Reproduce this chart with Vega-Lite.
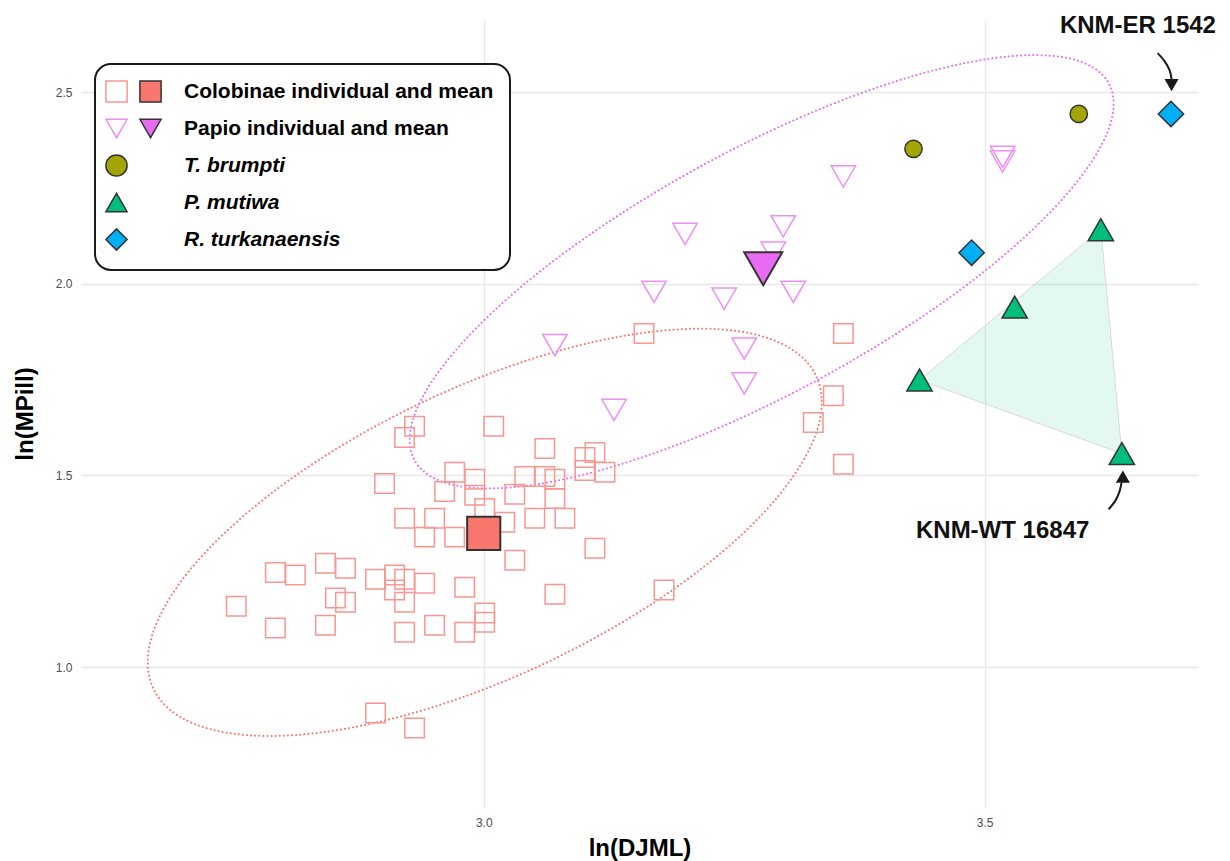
{
  "$schema": "https://vega.github.io/schema/vega-lite/v6.json",
  "width": 1117,
  "height": 787,
  "autosize": {"type": "none"},
  "padding": {"left": 81, "top": 20, "right": 32, "bottom": 54},
  "background": "white",
  "config": {"view": {"stroke": null}, "font": "Liberation Sans"},
  "datasets": {
    "pts": [
      {"taxon": "Colobinae", "x": 2.753, "y": 1.159},
      {"taxon": "Colobinae", "x": 2.792, "y": 1.247},
      {"taxon": "Colobinae", "x": 2.812, "y": 1.240},
      {"taxon": "Colobinae", "x": 2.792, "y": 1.102},
      {"taxon": "Colobinae", "x": 2.842, "y": 1.271},
      {"taxon": "Colobinae", "x": 2.862, "y": 1.258},
      {"taxon": "Colobinae", "x": 2.852, "y": 1.180},
      {"taxon": "Colobinae", "x": 2.862, "y": 1.169},
      {"taxon": "Colobinae", "x": 2.842, "y": 1.109},
      {"taxon": "Colobinae", "x": 2.892, "y": 1.229},
      {"taxon": "Colobinae", "x": 2.911, "y": 1.240},
      {"taxon": "Colobinae", "x": 2.921, "y": 1.229},
      {"taxon": "Colobinae", "x": 2.911, "y": 1.201},
      {"taxon": "Colobinae", "x": 2.941, "y": 1.219},
      {"taxon": "Colobinae", "x": 2.921, "y": 1.169},
      {"taxon": "Colobinae", "x": 2.981, "y": 1.208},
      {"taxon": "Colobinae", "x": 2.951, "y": 1.109},
      {"taxon": "Colobinae", "x": 2.921, "y": 1.091},
      {"taxon": "Colobinae", "x": 2.981, "y": 1.091},
      {"taxon": "Colobinae", "x": 3.001, "y": 1.141},
      {"taxon": "Colobinae", "x": 3.001, "y": 1.117},
      {"taxon": "Colobinae", "x": 2.892, "y": 0.880},
      {"taxon": "Colobinae", "x": 2.931, "y": 0.841},
      {"taxon": "Colobinae", "x": 2.901, "y": 1.479},
      {"taxon": "Colobinae", "x": 2.931, "y": 1.628},
      {"taxon": "Colobinae", "x": 2.921, "y": 1.599},
      {"taxon": "Colobinae", "x": 3.010, "y": 1.628},
      {"taxon": "Colobinae", "x": 2.971, "y": 1.508},
      {"taxon": "Colobinae", "x": 2.991, "y": 1.490},
      {"taxon": "Colobinae", "x": 2.961, "y": 1.458},
      {"taxon": "Colobinae", "x": 2.991, "y": 1.448},
      {"taxon": "Colobinae", "x": 3.001, "y": 1.414},
      {"taxon": "Colobinae", "x": 2.921, "y": 1.388},
      {"taxon": "Colobinae", "x": 2.951, "y": 1.388},
      {"taxon": "Colobinae", "x": 2.941, "y": 1.339},
      {"taxon": "Colobinae", "x": 2.971, "y": 1.339},
      {"taxon": "Colobinae", "x": 3.061, "y": 1.570},
      {"taxon": "Colobinae", "x": 3.101, "y": 1.547},
      {"taxon": "Colobinae", "x": 3.111, "y": 1.560},
      {"taxon": "Colobinae", "x": 3.101, "y": 1.513},
      {"taxon": "Colobinae", "x": 3.121, "y": 1.508},
      {"taxon": "Colobinae", "x": 3.041, "y": 1.497},
      {"taxon": "Colobinae", "x": 3.061, "y": 1.497},
      {"taxon": "Colobinae", "x": 3.071, "y": 1.490},
      {"taxon": "Colobinae", "x": 3.071, "y": 1.440},
      {"taxon": "Colobinae", "x": 3.031, "y": 1.451},
      {"taxon": "Colobinae", "x": 3.021, "y": 1.378},
      {"taxon": "Colobinae", "x": 3.051, "y": 1.388},
      {"taxon": "Colobinae", "x": 3.081, "y": 1.388},
      {"taxon": "Colobinae", "x": 3.111, "y": 1.310},
      {"taxon": "Colobinae", "x": 3.031, "y": 1.279},
      {"taxon": "Colobinae", "x": 3.071, "y": 1.190},
      {"taxon": "Colobinae", "x": 3.180, "y": 1.201},
      {"taxon": "Colobinae", "x": 3.160, "y": 1.870},
      {"taxon": "Colobinae", "x": 3.359, "y": 1.870},
      {"taxon": "Colobinae", "x": 3.349, "y": 1.708},
      {"taxon": "Colobinae", "x": 3.329, "y": 1.638},
      {"taxon": "Colobinae", "x": 3.359, "y": 1.529},
      {"taxon": "Papio", "x": 3.359, "y": 2.280},
      {"taxon": "Papio", "x": 3.299, "y": 2.150},
      {"taxon": "Papio", "x": 3.289, "y": 2.081},
      {"taxon": "Papio", "x": 3.201, "y": 2.130},
      {"taxon": "Papio", "x": 3.170, "y": 1.979},
      {"taxon": "Papio", "x": 3.240, "y": 1.961},
      {"taxon": "Papio", "x": 3.309, "y": 1.979},
      {"taxon": "Papio", "x": 3.071, "y": 1.840},
      {"taxon": "Papio", "x": 3.260, "y": 1.831},
      {"taxon": "Papio", "x": 3.260, "y": 1.740},
      {"taxon": "Papio", "x": 3.130, "y": 1.671},
      {"taxon": "Papio", "x": 3.518, "y": 2.331},
      {"taxon": "Papio", "x": 3.518, "y": 2.319},
      {"taxon": "T. brumpti", "x": 3.429, "y": 2.352},
      {"taxon": "T. brumpti", "x": 3.594, "y": 2.443},
      {"taxon": "P. mutiwa", "x": 3.616, "y": 2.141},
      {"taxon": "P. mutiwa", "x": 3.530, "y": 1.939},
      {"taxon": "P. mutiwa", "x": 3.435, "y": 1.749},
      {"taxon": "P. mutiwa", "x": 3.637, "y": 1.557},
      {"taxon": "R. turkanaensis", "x": 3.487, "y": 2.081},
      {"taxon": "R. turkanaensis", "x": 3.686, "y": 2.443}
    ],
    "means": [
      {"taxon": "Colobinae", "x": 3.000, "y": 1.349},
      {"taxon": "Papio", "x": 3.279, "y": 2.039}
    ],
    "hull": [
      {"i": 0, "x": 3.435, "y": 1.749},
      {"i": 1, "x": 3.616, "y": 2.141},
      {"i": 2, "x": 3.637, "y": 1.557}
    ],
    "ellC": [
      {"i": 0, "x": 3.3317, "y": 1.7599}, {"i": 1, "x": 3.3374, "y": 1.6947},
      {"i": 2, "x": 3.3329, "y": 1.6190}, {"i": 3, "x": 3.3182, "y": 1.5353},
      {"i": 4, "x": 3.2940, "y": 1.4459}, {"i": 5, "x": 3.2608, "y": 1.3537},
      {"i": 6, "x": 3.2197, "y": 1.2614}, {"i": 7, "x": 3.1720, "y": 1.1719},
      {"i": 8, "x": 3.1191, "y": 1.0878}, {"i": 9, "x": 3.0626, "y": 1.0117},
      {"i": 10, "x": 3.0043, "y": 0.9460}, {"i": 11, "x": 2.9458, "y": 0.8926},
      {"i": 12, "x": 2.8890, "y": 0.8531}, {"i": 13, "x": 2.8356, "y": 0.8288},
      {"i": 14, "x": 2.7873, "y": 0.8203}, {"i": 15, "x": 2.7454, "y": 0.8280},
      {"i": 16, "x": 2.7113, "y": 0.8516}, {"i": 17, "x": 2.6860, "y": 0.8904},
      {"i": 18, "x": 2.6703, "y": 0.9432}, {"i": 19, "x": 2.6646, "y": 1.0084},
      {"i": 20, "x": 2.6691, "y": 1.0841}, {"i": 21, "x": 2.6838, "y": 1.1678},
      {"i": 22, "x": 2.7080, "y": 1.2572}, {"i": 23, "x": 2.7412, "y": 1.3494},
      {"i": 24, "x": 2.7823, "y": 1.4417}, {"i": 25, "x": 2.8300, "y": 1.5312},
      {"i": 26, "x": 2.8829, "y": 1.6153}, {"i": 27, "x": 2.9394, "y": 1.6914},
      {"i": 28, "x": 2.9977, "y": 1.7571}, {"i": 29, "x": 3.0562, "y": 1.8105},
      {"i": 30, "x": 3.1130, "y": 1.8500}, {"i": 31, "x": 3.1664, "y": 1.8743},
      {"i": 32, "x": 3.2147, "y": 1.8828}, {"i": 33, "x": 3.2566, "y": 1.8751},
      {"i": 34, "x": 3.2907, "y": 1.8515}, {"i": 35, "x": 3.3160, "y": 1.8127}
    ],
    "ellP": [
      {"i": 0, "x": 3.6240, "y": 2.5227}, {"i": 1, "x": 3.6288, "y": 2.4668},
      {"i": 2, "x": 3.6230, "y": 2.3977}, {"i": 3, "x": 3.6066, "y": 2.3174},
      {"i": 4, "x": 3.5803, "y": 2.2284}, {"i": 5, "x": 3.5447, "y": 2.1334},
      {"i": 6, "x": 3.5011, "y": 2.0353}, {"i": 7, "x": 3.4506, "y": 1.9371},
      {"i": 8, "x": 3.3948, "y": 1.8418}, {"i": 9, "x": 3.3356, "y": 1.7522},
      {"i": 10, "x": 3.2745, "y": 1.6711}, {"i": 11, "x": 3.2136, "y": 1.6009},
      {"i": 12, "x": 3.1545, "y": 1.5439}, {"i": 13, "x": 3.0992, "y": 1.5016},
      {"i": 14, "x": 3.0494, "y": 1.4754}, {"i": 15, "x": 3.0064, "y": 1.4661},
      {"i": 16, "x": 2.9717, "y": 1.4740}, {"i": 17, "x": 2.9463, "y": 1.4988},
      {"i": 18, "x": 2.9309, "y": 1.5398}, {"i": 19, "x": 2.9261, "y": 1.5957},
      {"i": 20, "x": 2.9319, "y": 1.6648}, {"i": 21, "x": 2.9483, "y": 1.7451},
      {"i": 22, "x": 2.9746, "y": 1.8341}, {"i": 23, "x": 3.0102, "y": 1.9291},
      {"i": 24, "x": 3.0538, "y": 2.0272}, {"i": 25, "x": 3.1043, "y": 2.1254},
      {"i": 26, "x": 3.1601, "y": 2.2207}, {"i": 27, "x": 3.2193, "y": 2.3103},
      {"i": 28, "x": 3.2804, "y": 2.3914}, {"i": 29, "x": 3.3413, "y": 2.4616},
      {"i": 30, "x": 3.4004, "y": 2.5186}, {"i": 31, "x": 3.4557, "y": 2.5609},
      {"i": 32, "x": 3.5055, "y": 2.5871}, {"i": 33, "x": 3.5485, "y": 2.5964},
      {"i": 34, "x": 3.5832, "y": 2.5885}, {"i": 35, "x": 3.6086, "y": 2.5637}
    ],
    "arrows": [
      {"id": "a", "i": 0, "x": 3.6727, "y": 2.6016},
      {"id": "a", "i": 1, "x": 3.6796, "y": 2.5807},
      {"id": "a", "i": 2, "x": 3.6846, "y": 2.5573},
      {"id": "a", "i": 3, "x": 3.6866, "y": 2.5339},
      {"id": "b", "i": 0, "x": 3.6238, "y": 1.4115},
      {"id": "b", "i": 1, "x": 3.6307, "y": 1.4349},
      {"id": "b", "i": 2, "x": 3.6347, "y": 1.4583},
      {"id": "b", "i": 3, "x": 3.6367, "y": 1.4818}
    ],
    "heads": [
      {"id": "a", "x": 3.6866, "y": 2.518},
      {"id": "b", "x": 3.638, "y": 1.497}
    ],
    "labels": [
      {"label": "KNM-ER 1542", "x": 3.653, "y": 2.672},
      {"label": "KNM-WT 16847", "x": 3.518, "y": 1.354}
    ]
  },
  "layer": [
    {
      "data": {"name": "hull"},
      "mark": {"type": "line", "interpolate": "linear-closed", "fill": "#00BF7D", "fillOpacity": 0.11, "stroke": "#d9d9d9", "strokeWidth": 1},
      "encoding": {
        "x": {"field": "x", "type": "quantitative", "scale": {"domain": [2.598, 3.713], "nice": false, "zero": false},
          "axis": {"title": "ln(DJML)", "values": [3.0, 3.5], "format": ".1f", "grid": true, "gridColor": "#e8e8e8", "gridWidth": 1.4, "domain": false, "ticks": false, "labelFont": "Liberation Sans", "labelFontSize": 12, "labelColor": "#4d4d4d", "labelPadding": 10, "titleFont": "Liberation Sans", "titleFontSize": 24, "titleFontWeight": "bold", "titleColor": "#000000", "titlePadding": 8}},
        "y": {"field": "y", "type": "quantitative", "scale": {"domain": [0.635, 2.688], "nice": false, "zero": false},
          "axis": {"title": "ln(MPill)", "values": [1.0, 1.5, 2.0, 2.5], "format": ".1f", "grid": true, "gridColor": "#e8e8e8", "gridWidth": 1.4, "domain": false, "ticks": false, "labelFont": "Liberation Sans", "labelFontSize": 12, "labelColor": "#4d4d4d", "labelPadding": 9, "titleFont": "Liberation Sans", "titleFontSize": 24, "titleFontWeight": "bold", "titleColor": "#000000", "titlePadding": 18}},
        "order": {"field": "i", "type": "quantitative"}
      }
    },
    {
      "data": {"name": "ellC"},
      "mark": {"type": "line", "interpolate": "cardinal-closed", "stroke": "#F8766D", "strokeWidth": 2, "strokeDash": [0.1, 4], "strokeCap": "round"},
      "encoding": {
        "x": {"field": "x", "type": "quantitative"},
        "y": {"field": "y", "type": "quantitative"},
        "order": {"field": "i", "type": "quantitative"}
      }
    },
    {
      "data": {"name": "ellP"},
      "mark": {"type": "line", "interpolate": "cardinal-closed", "stroke": "#E76BF3", "strokeWidth": 2, "strokeDash": [0.1, 4], "strokeCap": "round"},
      "encoding": {
        "x": {"field": "x", "type": "quantitative"},
        "y": {"field": "y", "type": "quantitative"},
        "order": {"field": "i", "type": "quantitative"}
      }
    },
    {
      "data": {"name": "pts"},
      "transform": [{"filter": "datum.taxon === 'Colobinae'"}],
      "mark": {"type": "point", "filled": true, "size": 380, "strokeWidth": 1.5, "opacity": 1},
      "encoding": {
        "x": {"field": "x", "type": "quantitative"},
        "y": {"field": "y", "type": "quantitative"},
        "fill": {"field": "taxon", "type": "nominal",
          "scale": {"domain": ["Colobinae", "Papio", "T. brumpti", "P. mutiwa", "R. turkanaensis"], "range": ["transparent", "transparent", "#A3A500", "#00BF7D", "#00B0F6"]},
          "legend": {
            "orient": "none", "legendX": 14, "legendY": 44, "title": null,
            "fillColor": "white", "strokeColor": "#1a1a1a", "cornerRadius": 16, "padding": 16,
            "symbolSize": 450, "symbolStrokeWidth": 1.5, "symbolOffset": -6, "symbolOpacity": 1,
            "labelFont": "Liberation Sans", "labelFontSize": 21, "labelFontWeight": "bold", "labelColor": "#000000", "labelOffset": 56, "labelLimit": 400,
            "labelFontStyle": {"expr": "datum.value === 'Colobinae' || datum.value === 'Papio' ? 'normal' : 'italic'"},
            "rowPadding": 10, "zindex": 1,
            "labelExpr": "datum.value === 'Colobinae' ? 'Colobinae individual and mean' : datum.value === 'Papio' ? 'Papio individual and mean' : datum.value",
            "encode": {
              "legend": {"update": {"strokeWidth": {"value": 2}}}
            }
          }},
        "stroke": {"field": "taxon", "type": "nominal",
          "scale": {"domain": ["Colobinae", "Papio", "T. brumpti", "P. mutiwa", "R. turkanaensis"], "range": ["#F9968F", "#EC8FF6", "#333333", "#333333", "#333333"]}},
        "shape": {"field": "taxon", "type": "nominal",
          "scale": {"domain": ["Colobinae", "Papio", "T. brumpti", "P. mutiwa", "R. turkanaensis"], "range": ["square", "triangle-down", "circle", "triangle-up", "diamond"]}}
      }
    },
    {
      "data": {"name": "pts"},
      "transform": [{"filter": "datum.taxon === 'Papio'"}],
      "mark": {"type": "point", "filled": true, "size": 600, "strokeWidth": 1.5, "opacity": 1},
      "encoding": {
        "x": {"field": "x", "type": "quantitative"},
        "y": {"field": "y", "type": "quantitative"},
        "fill": {"field": "taxon", "type": "nominal"},
        "stroke": {"field": "taxon", "type": "nominal"},
        "shape": {"field": "taxon", "type": "nominal"}
      }
    },
    {
      "data": {"name": "pts"},
      "transform": [{"filter": "datum.taxon === 'T. brumpti'"}],
      "mark": {"type": "point", "filled": true, "size": 300, "strokeWidth": 1.5, "opacity": 1},
      "encoding": {
        "x": {"field": "x", "type": "quantitative"},
        "y": {"field": "y", "type": "quantitative"},
        "fill": {"field": "taxon", "type": "nominal"},
        "stroke": {"field": "taxon", "type": "nominal"},
        "shape": {"field": "taxon", "type": "nominal"}
      }
    },
    {
      "data": {"name": "pts"},
      "transform": [{"filter": "datum.taxon === 'P. mutiwa' || datum.taxon === 'R. turkanaensis'"}],
      "mark": {"type": "point", "filled": true, "size": 640, "strokeWidth": 1.5, "opacity": 1},
      "encoding": {
        "x": {"field": "x", "type": "quantitative"},
        "y": {"field": "y", "type": "quantitative"},
        "fill": {"field": "taxon", "type": "nominal"},
        "stroke": {"field": "taxon", "type": "nominal"},
        "shape": {"field": "taxon", "type": "nominal"}
      }
    },
    {
      "data": {"name": "means"},
      "transform": [{"filter": "datum.taxon === 'Colobinae'"}],
      "mark": {"type": "point", "shape": "square", "filled": true, "size": 1100, "stroke": "#333333", "strokeWidth": 2, "opacity": 1},
      "encoding": {
        "x": {"field": "x", "type": "quantitative"},
        "y": {"field": "y", "type": "quantitative"},
        "color": {"field": "taxon", "type": "nominal",
          "scale": {"domain": ["Colobinae", "Papio"], "range": ["#F8766D", "#E76BF3"]},
          "legend": {
            "orient": "none", "legendX": 58, "legendY": 60, "title": null, "padding": 0,
            "symbolSize": 450, "symbolStrokeWidth": 1.5, "symbolStrokeColor": "#333333", "symbolOpacity": 1,
            "symbolType": {"expr": "datum.value === 'Colobinae' ? 'square' : 'triangle-down'"},
            "labelExpr": "' '", "labelFont": "Liberation Sans", "labelFontSize": 21, "rowPadding": 10, "zindex": 2
          }}
      }
    },
    {
      "data": {"name": "means"},
      "transform": [{"filter": "datum.taxon === 'Papio'"}],
      "mark": {"type": "point", "shape": "triangle-down", "filled": true, "size": 1450, "stroke": "#333333", "strokeWidth": 2, "opacity": 1},
      "encoding": {
        "x": {"field": "x", "type": "quantitative"},
        "y": {"field": "y", "type": "quantitative"},
        "color": {"field": "taxon", "type": "nominal"}
      }
    },
    {
      "data": {"name": "arrows"},
      "mark": {"type": "line", "interpolate": "cardinal", "stroke": "#1a1a1a", "strokeWidth": 2},
      "encoding": {
        "x": {"field": "x", "type": "quantitative"},
        "y": {"field": "y", "type": "quantitative"},
        "detail": {"field": "id"},
        "order": {"field": "i", "type": "quantitative"}
      }
    },
    {
      "data": {"name": "heads"},
      "transform": [{"filter": "datum.id === 'a'"}],
      "mark": {"type": "point", "shape": "triangle-down", "filled": true, "size": 200, "color": "#1a1a1a", "opacity": 1},
      "encoding": {
        "x": {"field": "x", "type": "quantitative"},
        "y": {"field": "y", "type": "quantitative"}
      }
    },
    {
      "data": {"name": "heads"},
      "transform": [{"filter": "datum.id === 'b'"}],
      "mark": {"type": "point", "shape": "triangle-up", "filled": true, "size": 200, "color": "#1a1a1a", "opacity": 1},
      "encoding": {
        "x": {"field": "x", "type": "quantitative"},
        "y": {"field": "y", "type": "quantitative"}
      }
    },
    {
      "data": {"name": "labels"},
      "mark": {"type": "text", "font": "Liberation Sans", "fontSize": 24, "fontWeight": "bold", "color": "#111111", "baseline": "middle", "align": "center"},
      "encoding": {
        "x": {"field": "x", "type": "quantitative"},
        "y": {"field": "y", "type": "quantitative"},
        "text": {"field": "label"}
      }
    }
  ]
}
